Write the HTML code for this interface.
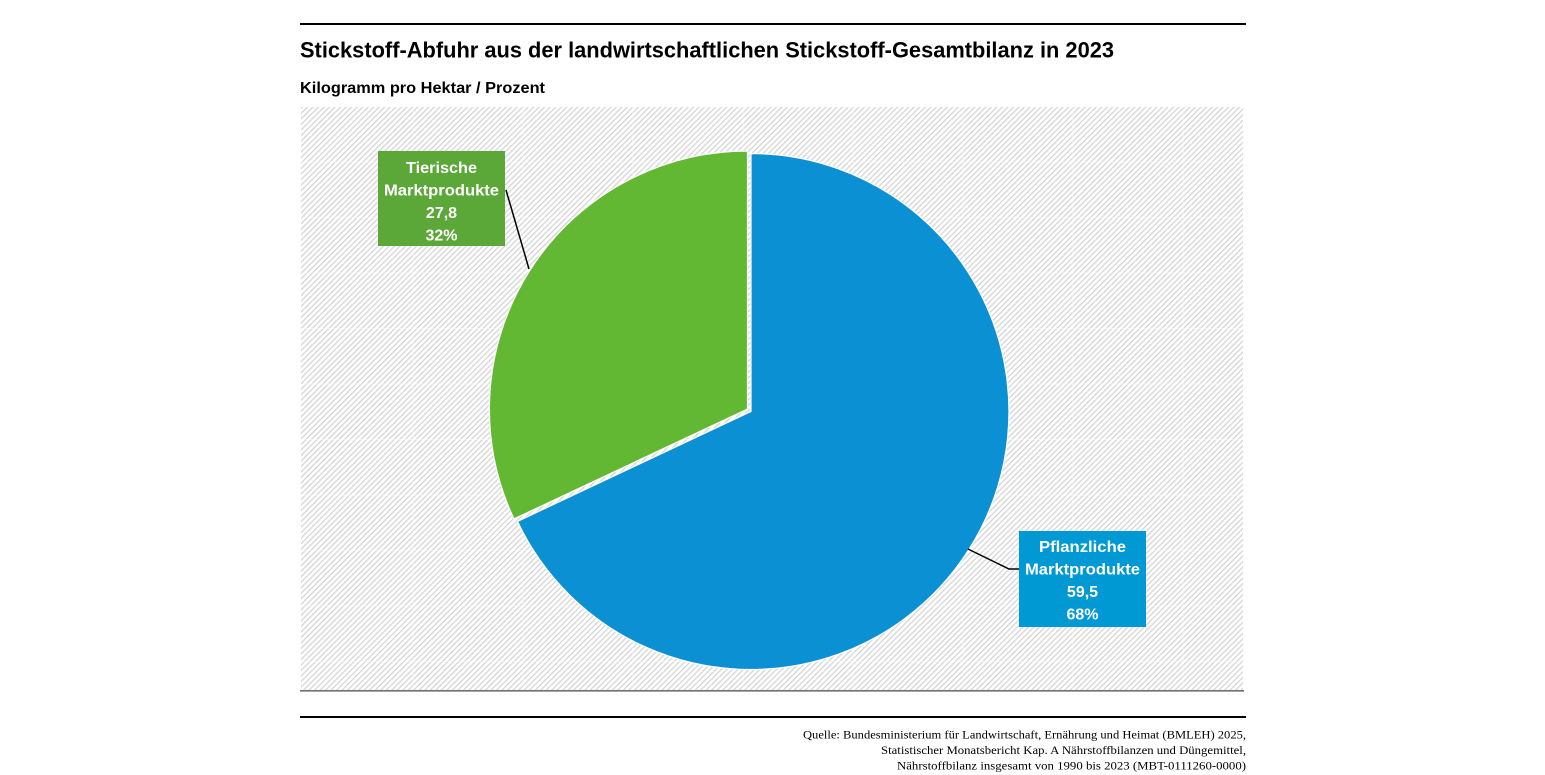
<!DOCTYPE html>
<html>
<head>
<meta charset="utf-8">
<style>
html,body{margin:0;padding:0;background:#fff;}
svg{display:block;}
</style>
</head>
<body>
<svg width="1545" height="775" viewBox="0 0 1545 775" xmlns="http://www.w3.org/2000/svg">
  <defs>
    <pattern id="hatch" patternUnits="userSpaceOnUse" width="3.9" height="10" patternTransform="rotate(45)">
      <rect x="0" y="0" width="3.9" height="10" fill="#ffffff"/>
      <rect x="0" y="0" width="1.2" height="10" fill="#d2d2d2"/>
    </pattern>
  </defs>
  <rect width="1545" height="775" fill="#fff"/>

  <!-- top rule -->
  <rect x="300" y="23" width="946" height="2" fill="#000"/>

  <!-- title -->
  <text x="300" y="57.5" font-family="Liberation Sans, Arial, sans-serif" font-weight="bold" font-size="22" fill="#000" textLength="814" lengthAdjust="spacingAndGlyphs">Stickstoff-Abfuhr aus der landwirtschaftlichen Stickstoff-Gesamtbilanz in 2023</text>
  <text x="300" y="93" font-family="Liberation Sans, Arial, sans-serif" font-weight="bold" font-size="15.5" fill="#000" textLength="245" lengthAdjust="spacingAndGlyphs">Kilogramm pro Hektar / Prozent</text>

  <!-- plot area hatch -->
  <rect x="301" y="107" width="942" height="584" fill="url(#hatch)"/>
  <g stroke="#ffffff" stroke-width="1" opacity="0.45">
    <line x1="301" y1="162" x2="1243" y2="162"/>
    <line x1="301" y1="217.5" x2="1243" y2="217.5"/>
    <line x1="301" y1="273" x2="1243" y2="273"/>
    <line x1="301" y1="328.5" x2="1243" y2="328.5"/>
    <line x1="301" y1="384" x2="1243" y2="384"/>
    <line x1="301" y1="439.5" x2="1243" y2="439.5"/>
    <line x1="301" y1="495" x2="1243" y2="495"/>
    <line x1="301" y1="550.5" x2="1243" y2="550.5"/>
    <line x1="301" y1="606" x2="1243" y2="606"/>
    <line x1="301" y1="661.5" x2="1243" y2="661.5"/>
    <line x1="413" y1="107" x2="413" y2="691"/>
    <line x1="523" y1="107" x2="523" y2="691"/>
    <line x1="633" y1="107" x2="633" y2="691"/>
    <line x1="743" y1="107" x2="743" y2="691"/>
    <line x1="853" y1="107" x2="853" y2="691"/>
    <line x1="963" y1="107" x2="963" y2="691"/>
    <line x1="1073" y1="107" x2="1073" y2="691"/>
    <line x1="1183" y1="107" x2="1183" y2="691"/>
  </g>

  <!-- axis line -->
  <rect x="300" y="690" width="944" height="1.6" fill="#707070"/>

  <!-- pie -->
  <path d="M751,411.5 L751,153.5 A258,258 0 1 1 517.5,521.4 Z" fill="#0b90d4" stroke="#ffffff" stroke-width="1.2"/>
  <path d="M747.5,409 L514,518.9 A258,258 0 0 1 747.5,151 Z" fill="#62b832" stroke="#ffffff" stroke-width="1.2"/>

  <!-- leader lines -->
  <polyline points="506,190 529,269" fill="none" stroke="#000" stroke-width="1.5"/>
  <polyline points="968,549 1009,569 1019,569" fill="none" stroke="#000" stroke-width="1.5"/>

  <!-- green label -->
  <rect x="378" y="151" width="127" height="95" fill="#5ba838"/>
  <g font-family="Liberation Sans, Arial, sans-serif" font-weight="bold" font-size="16" fill="#fff" text-anchor="middle">
    <text x="441.5" y="173" textLength="71" lengthAdjust="spacingAndGlyphs">Tierische</text>
    <text x="441.5" y="195.5" textLength="115" lengthAdjust="spacingAndGlyphs">Marktprodukte</text>
    <text x="441.5" y="218">27,8</text>
    <text x="441.5" y="240.5">32%</text>
  </g>

  <!-- blue label -->
  <rect x="1019" y="531" width="127" height="96" fill="#0099d4"/>
  <g font-family="Liberation Sans, Arial, sans-serif" font-weight="bold" font-size="16" fill="#fff" text-anchor="middle">
    <text x="1082.5" y="552" textLength="87" lengthAdjust="spacingAndGlyphs">Pflanzliche</text>
    <text x="1082.5" y="574.5" textLength="115" lengthAdjust="spacingAndGlyphs">Marktprodukte</text>
    <text x="1082.5" y="597">59,5</text>
    <text x="1082.5" y="619.5">68%</text>
  </g>

  <!-- bottom rule -->
  <rect x="300" y="716" width="946" height="2" fill="#000"/>

  <!-- source -->
  <g font-family="Liberation Serif, 'Times New Roman', serif" font-size="11.5" fill="#000">
    <text x="803" y="738.5" textLength="443" lengthAdjust="spacingAndGlyphs">Quelle: Bundesministerium für Landwirtschaft, Ernährung und Heimat (BMLEH) 2025,</text>
    <text x="881" y="754" textLength="365" lengthAdjust="spacingAndGlyphs">Statistischer Monatsbericht Kap. A Nährstoffbilanzen und Düngemittel,</text>
    <text x="897" y="769.5" textLength="349" lengthAdjust="spacingAndGlyphs">Nährstoffbilanz insgesamt von 1990 bis 2023 (MBT-0111260-0000)</text>
  </g>
</svg>
</body>
</html>
